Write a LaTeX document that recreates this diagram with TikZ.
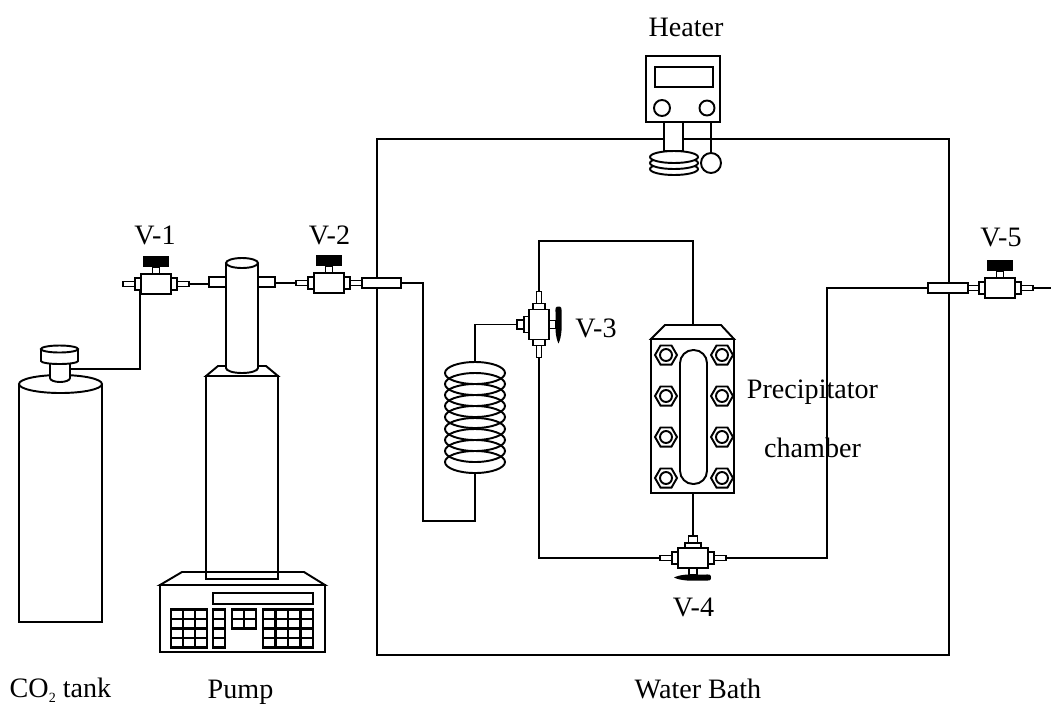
\documentclass[tikz,border=0pt]{standalone}
\usepackage{fontspec}
\setmainfont{Liberation Serif}
\tikzset{
  part/.style={draw, fill=white},
  tag/.style={font=\fontsize{16}{18}\selectfont, inner sep=0pt, anchor=base},
  key/.style={draw, fill=white, line width=1.5pt},
  valvebody/.pic={
    \draw [part] (-33,-2.5) rectangle (33,2.5);
    \draw [part] (-21,-6) rectangle (21,6);
    \draw [part] (-15,-10) rectangle (15,10);
    \coordinate (-left) at (-33,0);
    \coordinate (-right) at (33,0);
    \coordinate (-port) at (0,22);
  },
  knob/.pic={
    \draw [part] (-3.5,-17) rectangle (3.5,-10);
    \fill (-13,-28) rectangle (13,-17);
  },
  spindle/.pic={
    \draw [part] (-4,-17) rectangle (4,-10);
    \fill (-18,-19.5) .. controls (-18,-23) and (-16,-22.5) .. (-12,-22.5) -- (6,-22.5) .. controls (12,-22) and (16,-21) .. (19,-19.5) .. controls (16,-18) and (12,-17) .. (6,-16.5) -- (-12,-16.5) .. controls (-16,-16.5) and (-18,-16) .. (-18,-19.5);
    \draw [part] (-8,10) rectangle (8,15);
    \draw [part] (-4.5,15) rectangle (4.5,22);
  },
  nut/.pic={
    \draw [part] (0:11) -- (60:11) -- (120:11) -- (180:11) -- (240:11) -- (300:11) -- cycle;
    \draw (0,0) circle (6);
  }
}
\begin{document}
\begin{tikzpicture}[x=0.02cm, y=-0.02cm, line width=1.1pt]
  \useasboundingbox (0,0) rectangle (1051,704);

  \draw (377,139) rectangle (949,655);

  % valves
  \path (156,284) pic (vone) {valvebody} pic {knob};
  \path (329,283) pic (vtwo) {valvebody} pic {knob};
  \path (539,324.5) pic [rotate=-90] (vthree) {valvebody} pic [rotate=-90] {spindle};
  \path (693,558) pic [rotate=180] (vfour) {valvebody} pic [rotate=180] {spindle};
  \path (1000,288) pic (vfive) {valvebody} pic {knob};

  % pipes
  \coordinate (tankout) at (70,369);
  \coordinate (voneout) at (140,290);
  \coordinate (pumpin) at (209,284);
  \coordinate (pumpout) at (275,283);
  \coordinate (coiltop) at (475,362);
  \coordinate (coilend) at (475,473);
  \coordinate (chambertop) at (693,325);
  \coordinate (chamberend) at (693,493);
  \coordinate (topbend) at (693,241);
  \coordinate (outbend) at (827,288);
  \coordinate (sockin) at (401,283);
  \coordinate (sockout) at (928,288);
  \coordinate (drain) at (1051,288);
  \draw (tankout) -| (voneout);
  \draw (vone-right) -- (pumpin);
  \draw (pumpout) -- (vtwo-left);
  \draw (sockin) -| (423,521) -| (coilend);
  \draw (coiltop) |- (vthree-port);
  \draw (vthree-left) |- (topbend) -- (chambertop);
  \draw (vthree-right) |- (vfour-right);
  \draw (chamberend) -- (vfour-port);
  \draw (vfour-left) -| (outbend) -- (sockout);
  \draw (vfive-right) -- (drain);
  \draw [part] (362,278) rectangle (401,288);
  \draw [part] (928,283) rectangle (968,293);

  % tank
  \draw [part] (19,384) -- (19,622) -- (102,622) -- (102,384);
  \draw [part] (60.5,384) ellipse (41.5 and 9);
  \draw [part] (50,358) -- (50,378) arc (180:0:10 and 4) -- (70,358);
  \draw [part] (41,349) -- (41,361) arc (180:0:18.5 and 3) -- (78,349);
  \draw [part] (59.5,349) ellipse (18.5 and 3.5);

  % pump
  \draw [part] (206,376) -- (218,366) -- (266,366) -- (278,376) -- cycle;
  \draw [part] (206,376) rectangle (278,579);
  \draw [part] (209,277) rectangle (226,287);
  \draw [part] (258,277) rectangle (275,287);
  \draw [part] (226,263) -- (226,368) arc (180:0:16 and 5) -- (258,263);
  \draw [part] (242,263) ellipse (16 and 5);
  \draw [part] (160,585) -- (182,572) -- (304,572) -- (325,585) -- cycle;
  \draw [part] (206,572) rectangle (278,579);
  \draw [part] (160,585) rectangle (325,652);
  \draw (213,593) rectangle (313,604);
  \foreach \x in {171,183,195,213}
    \foreach \y in {609.5,619,628.5,638}
      \draw [key] (\x,\y) rectangle (\x+12,\y+9.5);
  \foreach \x in {232,244}
    \foreach \y in {609.5,619}
      \draw [key] (\x,\y) rectangle (\x+12,\y+9.5);
  \foreach \x in {263,275.5,288,300.5}
    \foreach \y in {609.5,619,628.5,638}
      \draw [key] (\x,\y) rectangle (\x+12.5,\y+9.5);

  % coil
  \foreach \y in {373,384,395,406,417,429,440,451,462}
    \draw (475,\y) ellipse (30 and 11);

  % chamber
  \draw [part] (651,339) -- (665,325) -- (721,325) -- (734,339) -- cycle;
  \draw [part] (651,339) rectangle (734,493);
  \draw [part, rounded corners=7.5pt] (680,350) rectangle (707,484);
  \foreach \y in {355,396,437,478} {
    \path (666,\y) pic {nut};
    \path (722,\y) pic {nut};
  }

  % heater
  \draw [part] (664,122) rectangle (683,151);
  \foreach \y in {169,163,157}
    \draw [part] (674,\y) ellipse (24 and 6);
  \draw [part] (646,56) rectangle (720,122);
  \draw (655,67) rectangle (713,87);
  \draw (662,108) circle (8);
  \draw (707,108) circle (7.5);
  \coordinate (probetop) at (711,122);
  \coordinate (probe) at (711,153);
  \draw (probetop) -- (probe);
  \draw (711,163) circle (10);

  % labels
  \node [tag] (heaterlabel) at (686,36) {Heater};
  \node [tag] (vonelabel) at (155,244) {V-1};
  \node [tag] (vtwolabel) at (329.5,244) {V-2};
  \node [tag] (vthreelabel) at (596,337) {V-3};
  \node [tag] (vfourlabel) at (693.5,616) {V-4};
  \node [tag] (vfivelabel) at (1001,246) {V-5};
  \node [tag] (precipitatorlabel) at (812.5,398) {Precipitator};
  \node [tag] (chamberlabel) at (812.5,457) {chamber};
  \node [tag] (tanklabel) at (60.5,697) {CO\raisebox{-3.4pt}{\fontsize{8}{8}\selectfont 2} tank};
  \node [tag] (pumplabel) at (240.5,698) {Pump};
  \node [tag] (bathlabel) at (698,698) {Water Bath};
\end{tikzpicture}
\end{document}
